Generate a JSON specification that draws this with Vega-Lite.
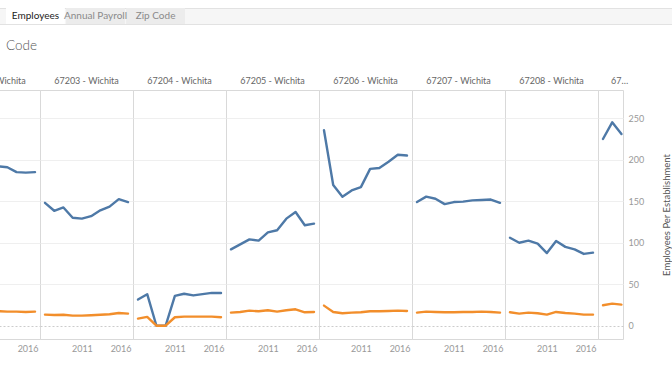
{
  "$schema": "https://vega.github.io/schema/vega-lite/v6.json",
  "padding": {"left": -54, "top": 7, "right": 0, "bottom": 0},
  "background": "white",
  "config": {
    "font": "Lato",
    "view": {"stroke": "#d9d9d9", "strokeWidth": 1},
    "line": {"strokeWidth": 2.4, "strokeJoin": "round", "strokeCap": "round"},
    "title": {"fontSize": 9, "fontWeight": "normal", "color": "#666", "offset": 4},
    "axisX": {"ticks": false, "domain": false, "grid": false, "labelColor": "#999", "labelFontSize": 9, "labelPadding": 5, "labelFlush": 10, "labelFlushOffset": 3},
    "axisY": {"labelColor": "#999", "labelFontSize": 9, "labelPadding": 5, "titleFontSize": 9.5, "titleColor": "#555", "titleFontWeight": "normal"}
  },
  "data": {"values": [
    {"zip":"67202","year":2012,"series":"Zip Code","value":192},
    {"zip":"67202","year":2013,"series":"Zip Code","value":191},
    {"zip":"67202","year":2014,"series":"Zip Code","value":185},
    {"zip":"67202","year":2015,"series":"Zip Code","value":184.5},
    {"zip":"67202","year":2016,"series":"Zip Code","value":185},
    {"zip":"67202","year":2012,"series":"Comparison","value":17.5},
    {"zip":"67202","year":2013,"series":"Comparison","value":17},
    {"zip":"67202","year":2014,"series":"Comparison","value":17},
    {"zip":"67202","year":2015,"series":"Comparison","value":16.5},
    {"zip":"67202","year":2016,"series":"Comparison","value":17},

    {"zip":"67203","year":2007,"series":"Zip Code","value":148},
    {"zip":"67203","year":2008,"series":"Zip Code","value":138.5},
    {"zip":"67203","year":2009,"series":"Zip Code","value":142.5},
    {"zip":"67203","year":2010,"series":"Zip Code","value":130},
    {"zip":"67203","year":2011,"series":"Zip Code","value":129},
    {"zip":"67203","year":2012,"series":"Zip Code","value":132},
    {"zip":"67203","year":2013,"series":"Zip Code","value":139},
    {"zip":"67203","year":2014,"series":"Zip Code","value":143.5},
    {"zip":"67203","year":2015,"series":"Zip Code","value":152.5},
    {"zip":"67203","year":2016,"series":"Zip Code","value":149},
    {"zip":"67203","year":2007,"series":"Comparison","value":13.4},
    {"zip":"67203","year":2008,"series":"Comparison","value":13},
    {"zip":"67203","year":2009,"series":"Comparison","value":13.2},
    {"zip":"67203","year":2010,"series":"Comparison","value":12.2},
    {"zip":"67203","year":2011,"series":"Comparison","value":12.2},
    {"zip":"67203","year":2012,"series":"Comparison","value":12.6},
    {"zip":"67203","year":2013,"series":"Comparison","value":13.2},
    {"zip":"67203","year":2014,"series":"Comparison","value":13.8},
    {"zip":"67203","year":2015,"series":"Comparison","value":15.4},
    {"zip":"67203","year":2016,"series":"Comparison","value":14.6},

    {"zip":"67204","year":2007,"series":"Zip Code","value":31.5},
    {"zip":"67204","year":2008,"series":"Zip Code","value":38},
    {"zip":"67204","year":2009,"series":"Zip Code","value":0},
    {"zip":"67204","year":2010,"series":"Zip Code","value":0},
    {"zip":"67204","year":2011,"series":"Zip Code","value":36},
    {"zip":"67204","year":2012,"series":"Zip Code","value":38.5},
    {"zip":"67204","year":2013,"series":"Zip Code","value":36.5},
    {"zip":"67204","year":2014,"series":"Zip Code","value":38},
    {"zip":"67204","year":2015,"series":"Zip Code","value":39.5},
    {"zip":"67204","year":2016,"series":"Zip Code","value":39.5},
    {"zip":"67204","year":2007,"series":"Comparison","value":8.6},
    {"zip":"67204","year":2008,"series":"Comparison","value":10.6},
    {"zip":"67204","year":2009,"series":"Comparison","value":0},
    {"zip":"67204","year":2010,"series":"Comparison","value":0},
    {"zip":"67204","year":2011,"series":"Comparison","value":10.2},
    {"zip":"67204","year":2012,"series":"Comparison","value":11},
    {"zip":"67204","year":2013,"series":"Comparison","value":11},
    {"zip":"67204","year":2014,"series":"Comparison","value":11},
    {"zip":"67204","year":2015,"series":"Comparison","value":11},
    {"zip":"67204","year":2016,"series":"Comparison","value":10.2},

    {"zip":"67205","year":2007,"series":"Zip Code","value":92},
    {"zip":"67205","year":2008,"series":"Zip Code","value":98},
    {"zip":"67205","year":2009,"series":"Zip Code","value":104},
    {"zip":"67205","year":2010,"series":"Zip Code","value":102.5},
    {"zip":"67205","year":2011,"series":"Zip Code","value":112.5},
    {"zip":"67205","year":2012,"series":"Zip Code","value":115},
    {"zip":"67205","year":2013,"series":"Zip Code","value":129},
    {"zip":"67205","year":2014,"series":"Zip Code","value":137},
    {"zip":"67205","year":2015,"series":"Zip Code","value":121},
    {"zip":"67205","year":2016,"series":"Zip Code","value":123},
    {"zip":"67205","year":2007,"series":"Comparison","value":15.8},
    {"zip":"67205","year":2008,"series":"Comparison","value":16.6},
    {"zip":"67205","year":2009,"series":"Comparison","value":18.2},
    {"zip":"67205","year":2010,"series":"Comparison","value":17.4},
    {"zip":"67205","year":2011,"series":"Comparison","value":18.6},
    {"zip":"67205","year":2012,"series":"Comparison","value":17},
    {"zip":"67205","year":2013,"series":"Comparison","value":18.6},
    {"zip":"67205","year":2014,"series":"Comparison","value":19.8},
    {"zip":"67205","year":2015,"series":"Comparison","value":16.2},
    {"zip":"67205","year":2016,"series":"Comparison","value":16.6},

    {"zip":"67206","year":2007,"series":"Zip Code","value":235.5},
    {"zip":"67206","year":2008,"series":"Zip Code","value":169.5},
    {"zip":"67206","year":2009,"series":"Zip Code","value":155.5},
    {"zip":"67206","year":2010,"series":"Zip Code","value":163},
    {"zip":"67206","year":2011,"series":"Zip Code","value":167},
    {"zip":"67206","year":2012,"series":"Zip Code","value":189},
    {"zip":"67206","year":2013,"series":"Zip Code","value":190},
    {"zip":"67206","year":2014,"series":"Zip Code","value":197.5},
    {"zip":"67206","year":2015,"series":"Zip Code","value":206},
    {"zip":"67206","year":2016,"series":"Zip Code","value":205},
    {"zip":"67206","year":2007,"series":"Comparison","value":24.2},
    {"zip":"67206","year":2008,"series":"Comparison","value":16.6},
    {"zip":"67206","year":2009,"series":"Comparison","value":15},
    {"zip":"67206","year":2010,"series":"Comparison","value":15.8},
    {"zip":"67206","year":2011,"series":"Comparison","value":16.2},
    {"zip":"67206","year":2012,"series":"Comparison","value":17.4},
    {"zip":"67206","year":2013,"series":"Comparison","value":17.4},
    {"zip":"67206","year":2014,"series":"Comparison","value":17.8},
    {"zip":"67206","year":2015,"series":"Comparison","value":18.2},
    {"zip":"67206","year":2016,"series":"Comparison","value":17.8},

    {"zip":"67207","year":2007,"series":"Zip Code","value":149},
    {"zip":"67207","year":2008,"series":"Zip Code","value":155.5},
    {"zip":"67207","year":2009,"series":"Zip Code","value":153},
    {"zip":"67207","year":2010,"series":"Zip Code","value":146.5},
    {"zip":"67207","year":2011,"series":"Zip Code","value":149},
    {"zip":"67207","year":2012,"series":"Zip Code","value":149.5},
    {"zip":"67207","year":2013,"series":"Zip Code","value":151},
    {"zip":"67207","year":2014,"series":"Zip Code","value":151.5},
    {"zip":"67207","year":2015,"series":"Zip Code","value":152},
    {"zip":"67207","year":2016,"series":"Zip Code","value":148},
    {"zip":"67207","year":2007,"series":"Comparison","value":15.8},
    {"zip":"67207","year":2008,"series":"Comparison","value":17},
    {"zip":"67207","year":2009,"series":"Comparison","value":16.6},
    {"zip":"67207","year":2010,"series":"Comparison","value":16.2},
    {"zip":"67207","year":2011,"series":"Comparison","value":16.2},
    {"zip":"67207","year":2012,"series":"Comparison","value":16.6},
    {"zip":"67207","year":2013,"series":"Comparison","value":16.6},
    {"zip":"67207","year":2014,"series":"Comparison","value":17},
    {"zip":"67207","year":2015,"series":"Comparison","value":16.6},
    {"zip":"67207","year":2016,"series":"Comparison","value":15.8},

    {"zip":"67208","year":2007,"series":"Zip Code","value":106},
    {"zip":"67208","year":2008,"series":"Zip Code","value":100},
    {"zip":"67208","year":2009,"series":"Zip Code","value":102.5},
    {"zip":"67208","year":2010,"series":"Zip Code","value":99},
    {"zip":"67208","year":2011,"series":"Zip Code","value":87.5},
    {"zip":"67208","year":2012,"series":"Zip Code","value":102},
    {"zip":"67208","year":2013,"series":"Zip Code","value":95},
    {"zip":"67208","year":2014,"series":"Zip Code","value":92},
    {"zip":"67208","year":2015,"series":"Zip Code","value":86.5},
    {"zip":"67208","year":2016,"series":"Zip Code","value":88},
    {"zip":"67208","year":2007,"series":"Comparison","value":16.2},
    {"zip":"67208","year":2008,"series":"Comparison","value":14.6},
    {"zip":"67208","year":2009,"series":"Comparison","value":15.8},
    {"zip":"67208","year":2010,"series":"Comparison","value":15},
    {"zip":"67208","year":2011,"series":"Comparison","value":13.4},
    {"zip":"67208","year":2012,"series":"Comparison","value":16.6},
    {"zip":"67208","year":2013,"series":"Comparison","value":15.4},
    {"zip":"67208","year":2014,"series":"Comparison","value":14.6},
    {"zip":"67208","year":2015,"series":"Comparison","value":13.4},
    {"zip":"67208","year":2016,"series":"Comparison","value":13.4},

    {"zip":"67209","year":2007,"series":"Zip Code","value":225},
    {"zip":"67209","year":2008,"series":"Zip Code","value":245},
    {"zip":"67209","year":2009,"series":"Zip Code","value":231},
    {"zip":"67209","year":2007,"series":"Comparison","value":24.7},
    {"zip":"67209","year":2008,"series":"Comparison","value":26.6},
    {"zip":"67209","year":2009,"series":"Comparison","value":25.4}
  ]},
  "spacing": 14,
  "vconcat": [
    {
      "width": 726,
      "height": 16,
      "data": {"values": [{"tab": "Employees"}, {"tab": "Annual Payroll"}, {"tab": "Zip Code"}]},
      "view": {"fill": "#f6f6f6", "stroke": "#e2e2e2"},
      "layer": [
        {
          "mark": {"type": "rect", "strokeWidth": 0},
          "encoding": {
            "x": {"field": "tab", "type": "nominal", "sort": null, "axis": null,
                  "scale": {"type": "band", "paddingInner": 0.02, "paddingOuter": 0, "range": [59, 238]}},
            "fill": {"condition": {"test": "datum.tab === 'Employees'", "value": "#ffffff"}, "value": "#ececec"}
          }
        },
        {
          "mark": {"type": "text", "fontSize": 10},
          "encoding": {
            "x": {"field": "tab", "type": "nominal", "sort": null, "axis": null},
            "text": {"field": "tab"},
            "color": {"condition": {"test": "datum.tab === 'Employees'", "value": "#222222"}, "value": "#8a8a8a"}
          }
        }
      ]
    },
    {
      "title": {"text": "Code", "anchor": "start", "frame": "group", "dx": 59, "fontSize": 13.5, "color": "#555", "fontWeight": 300, "offset": 24},
      "spacing": 0,
      "bounds": "flush",
      "resolve": {"scale": {"x": "independent", "y": "independent"}},
      "hconcat": [
        {
          "width": 93, "height": 249, "title": "67202 - Wichita",
          "transform": [{"filter": {"field": "zip", "equal": "67202"}}],
          "mark": {"type": "line", "clip": true},
          "encoding": {
            "x": {"field": "year", "type": "quantitative", "scale": {"domain": [2006.46, 2016.54], "nice": false, "zero": false}, "axis": {"values": [2011, 2016], "format": "d", "title": null}},
            "y": {"field": "value", "type": "quantitative", "scale": {"domain": [-16, 284], "nice": false, "zero": false}, "axis": {"values": [0, 50, 100, 150, 200, 250], "labels": false, "ticks": false, "domain": false, "title": null, "gridDash": {"condition": {"test": "datum.value === 0", "value": [2, 2]}, "value": []}, "gridColor": {"condition": {"test": "datum.value === 0", "value": "#cccccc"}, "value": "#efefef"}}},
            "color": {"field": "series", "type": "nominal", "scale": {"domain": ["Zip Code", "Comparison"], "range": ["#4e79a7", "#f28e2b"]}, "legend": null}
          }
        },
        {
          "width": 93, "height": 249, "title": "67203 - Wichita",
          "transform": [{"filter": {"field": "zip", "equal": "67203"}}],
          "mark": {"type": "line", "clip": true},
          "encoding": {
            "x": {"field": "year", "type": "quantitative", "scale": {"domain": [2006.46, 2016.54], "nice": false, "zero": false}, "axis": {"values": [2011, 2016], "format": "d", "title": null}},
            "y": {"field": "value", "type": "quantitative", "scale": {"domain": [-16, 284], "nice": false, "zero": false}, "axis": {"values": [0, 50, 100, 150, 200, 250], "labels": false, "ticks": false, "domain": false, "title": null, "gridDash": {"condition": {"test": "datum.value === 0", "value": [2, 2]}, "value": []}, "gridColor": {"condition": {"test": "datum.value === 0", "value": "#cccccc"}, "value": "#efefef"}}},
            "color": {"field": "series", "type": "nominal", "scale": {"domain": ["Zip Code", "Comparison"], "range": ["#4e79a7", "#f28e2b"]}, "legend": null}
          }
        },
        {
          "width": 93, "height": 249, "title": "67204 - Wichita",
          "transform": [{"filter": {"field": "zip", "equal": "67204"}}],
          "mark": {"type": "line", "clip": true},
          "encoding": {
            "x": {"field": "year", "type": "quantitative", "scale": {"domain": [2006.46, 2016.54], "nice": false, "zero": false}, "axis": {"values": [2011, 2016], "format": "d", "title": null}},
            "y": {"field": "value", "type": "quantitative", "scale": {"domain": [-16, 284], "nice": false, "zero": false}, "axis": {"values": [0, 50, 100, 150, 200, 250], "labels": false, "ticks": false, "domain": false, "title": null, "gridDash": {"condition": {"test": "datum.value === 0", "value": [2, 2]}, "value": []}, "gridColor": {"condition": {"test": "datum.value === 0", "value": "#cccccc"}, "value": "#efefef"}}},
            "color": {"field": "series", "type": "nominal", "scale": {"domain": ["Zip Code", "Comparison"], "range": ["#4e79a7", "#f28e2b"]}, "legend": null}
          }
        },
        {
          "width": 93, "height": 249, "title": "67205 - Wichita",
          "transform": [{"filter": {"field": "zip", "equal": "67205"}}],
          "mark": {"type": "line", "clip": true},
          "encoding": {
            "x": {"field": "year", "type": "quantitative", "scale": {"domain": [2006.46, 2016.54], "nice": false, "zero": false}, "axis": {"values": [2011, 2016], "format": "d", "title": null}},
            "y": {"field": "value", "type": "quantitative", "scale": {"domain": [-16, 284], "nice": false, "zero": false}, "axis": {"values": [0, 50, 100, 150, 200, 250], "labels": false, "ticks": false, "domain": false, "title": null, "gridDash": {"condition": {"test": "datum.value === 0", "value": [2, 2]}, "value": []}, "gridColor": {"condition": {"test": "datum.value === 0", "value": "#cccccc"}, "value": "#efefef"}}},
            "color": {"field": "series", "type": "nominal", "scale": {"domain": ["Zip Code", "Comparison"], "range": ["#4e79a7", "#f28e2b"]}, "legend": null}
          }
        },
        {
          "width": 93, "height": 249, "title": "67206 - Wichita",
          "transform": [{"filter": {"field": "zip", "equal": "67206"}}],
          "mark": {"type": "line", "clip": true},
          "encoding": {
            "x": {"field": "year", "type": "quantitative", "scale": {"domain": [2006.46, 2016.54], "nice": false, "zero": false}, "axis": {"values": [2011, 2016], "format": "d", "title": null}},
            "y": {"field": "value", "type": "quantitative", "scale": {"domain": [-16, 284], "nice": false, "zero": false}, "axis": {"values": [0, 50, 100, 150, 200, 250], "labels": false, "ticks": false, "domain": false, "title": null, "gridDash": {"condition": {"test": "datum.value === 0", "value": [2, 2]}, "value": []}, "gridColor": {"condition": {"test": "datum.value === 0", "value": "#cccccc"}, "value": "#efefef"}}},
            "color": {"field": "series", "type": "nominal", "scale": {"domain": ["Zip Code", "Comparison"], "range": ["#4e79a7", "#f28e2b"]}, "legend": null}
          }
        },
        {
          "width": 93, "height": 249, "title": "67207 - Wichita",
          "transform": [{"filter": {"field": "zip", "equal": "67207"}}],
          "mark": {"type": "line", "clip": true},
          "encoding": {
            "x": {"field": "year", "type": "quantitative", "scale": {"domain": [2006.46, 2016.54], "nice": false, "zero": false}, "axis": {"values": [2011, 2016], "format": "d", "title": null}},
            "y": {"field": "value", "type": "quantitative", "scale": {"domain": [-16, 284], "nice": false, "zero": false}, "axis": {"values": [0, 50, 100, 150, 200, 250], "labels": false, "ticks": false, "domain": false, "title": null, "gridDash": {"condition": {"test": "datum.value === 0", "value": [2, 2]}, "value": []}, "gridColor": {"condition": {"test": "datum.value === 0", "value": "#cccccc"}, "value": "#efefef"}}},
            "color": {"field": "series", "type": "nominal", "scale": {"domain": ["Zip Code", "Comparison"], "range": ["#4e79a7", "#f28e2b"]}, "legend": null}
          }
        },
        {
          "width": 93, "height": 249, "title": "67208 - Wichita",
          "transform": [{"filter": {"field": "zip", "equal": "67208"}}],
          "mark": {"type": "line", "clip": true},
          "encoding": {
            "x": {"field": "year", "type": "quantitative", "scale": {"domain": [2006.46, 2016.54], "nice": false, "zero": false}, "axis": {"values": [2011, 2016], "format": "d", "title": null}},
            "y": {"field": "value", "type": "quantitative", "scale": {"domain": [-16, 284], "nice": false, "zero": false}, "axis": {"values": [0, 50, 100, 150, 200, 250], "labels": false, "ticks": false, "domain": false, "title": null, "gridDash": {"condition": {"test": "datum.value === 0", "value": [2, 2]}, "value": []}, "gridColor": {"condition": {"test": "datum.value === 0", "value": "#cccccc"}, "value": "#efefef"}}},
            "color": {"field": "series", "type": "nominal", "scale": {"domain": ["Zip Code", "Comparison"], "range": ["#4e79a7", "#f28e2b"]}, "legend": null}
          }
        },
        {
          "width": 25, "height": 249,
          "title": {"text": "67209 - Wichita", "anchor": "start", "frame": "group", "dx": 13, "limit": 19},
          "transform": [{"filter": {"field": "zip", "equal": "67209"}}],
          "mark": {"type": "line", "clip": true},
          "encoding": {
            "x": {"field": "year", "type": "quantitative", "scale": {"domain": [2006.46, 2009.17], "nice": false, "zero": false}, "axis": null},
            "y": {"field": "value", "type": "quantitative", "scale": {"domain": [-16, 284], "nice": false, "zero": false}, "axis": {"orient": "right", "values": [0, 50, 100, 150, 200, 250], "ticks": false, "domain": false, "title": "Employees Per Establishment", "titleAngle": 270, "titlePadding": 28, "gridDash": {"condition": {"test": "datum.value === 0", "value": [2, 2]}, "value": []}, "gridColor": {"condition": {"test": "datum.value === 0", "value": "#cccccc"}, "value": "#efefef"}}},
            "color": {"field": "series", "type": "nominal", "scale": {"domain": ["Zip Code", "Comparison"], "range": ["#4e79a7", "#f28e2b"]}, "legend": null}
          }
        }
      ]
    }
  ]
}
